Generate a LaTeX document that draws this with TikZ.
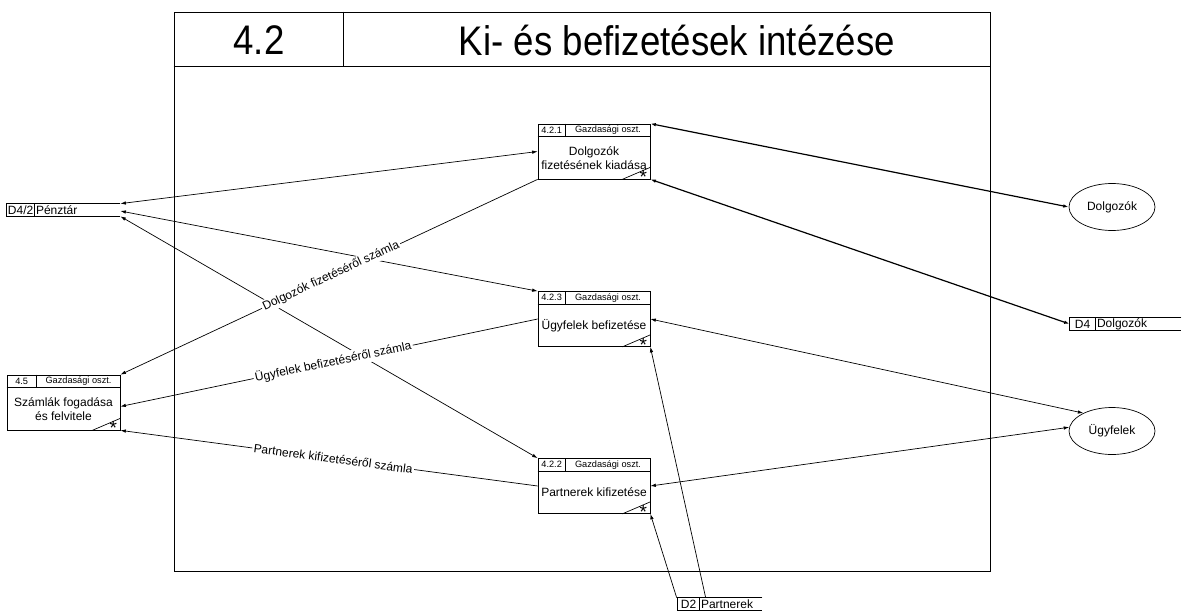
\documentclass[tikz,border=0pt]{standalone}
\usepackage{fontspec}
\setmainfont{Liberation Sans}
\usetikzlibrary{arrows.meta,shapes.geometric,calc}

% header line, id / department cells, body text and the starred corner of a process box
\newcommand{\procparts}[4]{%
  \draw ([yshift=-13pt]#1.north west) -- ([yshift=-13pt]#1.north east);
  \draw ([xshift=#4]#1.north west) -- ([xshift=#4,yshift=-13pt]#1.north west);
  \node[idtext] at ([xshift=#4/2,yshift=-6.5pt]#1.north west) {#2};
  \node[idtext] at ($([xshift=#4,yshift=-6.5pt]#1.north west)!0.5!([yshift=-6.5pt]#1.north east)$) {Gazdasági oszt.};
  \node[bodytext] at ([yshift=-6.5pt]#1.center) {#3};
  \draw ([xshift=-28pt]#1.south east) -- ([yshift=12pt]#1.south east);
  \node[startext] at ([xshift=-7pt,yshift=2pt]#1.south east) {*};
}

% data store: open on the right, with a cell for its id
\newcommand{\storeparts}[4]{%
  \draw (#1.north east) -- (#1.north west) -- (#1.south west) -- (#1.south east);
  \draw ([xshift=#4]#1.north west) -- ([xshift=#4]#1.south west);
  \node[bodytext,anchor=center] at ([xshift=#4/2]#1.west) {#2};
  \node[bodytext,anchor=west,inner sep=1pt] at ([xshift=#4]#1.west) {#3};
}

\begin{document}
\begin{tikzpicture}[x=1pt,y=-1pt,line width=0.7pt,
  tip/.tip={Latex[length=5.5pt,width=3.5pt]},
  both/.style={tip-tip},
  heavy/.style={tip-tip,line width=1.2pt},
  procbox/.style={draw,rectangle,minimum width=112pt,minimum height=55pt,inner sep=0pt},
  storebox/.style={rectangle,minimum height=12pt,inner sep=0pt},
  extent/.style={draw,ellipse,minimum width=86pt,minimum height=47pt,inner sep=0pt,font=\fontsize{12}{14}\selectfont},
  idtext/.style={font=\fontsize{9.2}{10}\selectfont,inner sep=0pt},
  bodytext/.style={font=\fontsize{12}{14}\selectfont,align=center,inner sep=0pt},
  startext/.style={font=\fontsize{19}{19}\selectfont,inner sep=0pt},
  flowlabel/.style={sloped,fill=white,inner sep=1.5pt,font=\fontsize{12}{14}\selectfont},
  titletext/.style={font=\fontsize{39}{44}\selectfont,xscale=0.94,yscale=1.06}]

\useasboundingbox (0,0) rectangle (1182,615);

% outer frame with its title row
\node[draw,rectangle,minimum width=816pt,minimum height=559pt,inner sep=0pt] (frame) at (582,291.5) {};
\draw ([yshift=-55pt]frame.north west) -- ([yshift=-55pt]frame.north east);
\draw ([xshift=170pt]frame.north west) -- ([xshift=170pt,yshift=-55pt]frame.north west);
\node[titletext] (num) at (259,40) {4.2};
\node[titletext] (title) at (677,40) {Ki- és befizetések intézése};

% processes
\node[procbox] (p421) at (594,151.5) {};
\procparts{p421}{4.2.1}{Dolgozók\\fizetésének kiadása}{28pt}
\node[procbox] (p423) at (594,319) {};
\procparts{p423}{4.2.3}{Ügyfelek befizetése}{28pt}
\node[procbox] (p422) at (594,486) {};
\procparts{p422}{4.2.2}{Partnerek kifizetése}{28pt}
\node[procbox,minimum width=113pt] (p45) at (63.5,402.5) {};
\procparts{p45}{4.5}{Számlák fogadása\\és felvitele}{30pt}

% data stores
\node[storebox,minimum width=113pt] (penz) at (63.5,210) {};
\storeparts{penz}{D4/2}{Pénztár}{28pt}
\node[storebox,minimum width=111pt] (d4) at (1125.5,324) {};
\storeparts{d4}{D4}{Dolgozók}{26pt}
\node[storebox,minimum width=84pt] (d2) at (720,604) {};
\storeparts{d2}{D2}{Partnerek}{22pt}

% external entities
\node[extent] (dolg) at (1112,207) {Dolgozók};
\node[extent] (ugyf) at (1112,431) {Ügyfelek};

% cash desk flows
\draw[both] (penz.north east) -- (p421.west);
\draw[both] ([yshift=-1pt]penz.east) -- (p423.north west);
\draw[both] (penz.south east) -- (p422.north west);

% invoices passed to 4.5
\draw[-tip] (p421.south west) -- node[flowlabel,pos=0.495] {Dolgozók fizetéséről számla} (p45.north east);
\draw[-tip] (p423.west) -- node[flowlabel,pos=0.49] {Ügyfelek befizetéséről számla} ([yshift=-4pt]p45.east);
\draw[-tip] (p422.west) -- node[flowlabel,pos=0.49] {Partnerek kifizetéséről számla} (p45.south east);

% employees
\draw[heavy] (p421.north east) -- (dolg.west);
\draw[heavy] (p421.south east) -- (d4.west);

% customers
\draw[both] (p423.east) -- (ugyf.148);
\draw[both] (p422.east) -- (ugyf.175);

% partners
\draw[-tip] ([xshift=-1pt]d2.north west) -- (p422.south east);
\draw[-tip] ([xshift=28pt]d2.north west) -- (p423.south east);

\end{tikzpicture}
\end{document}
